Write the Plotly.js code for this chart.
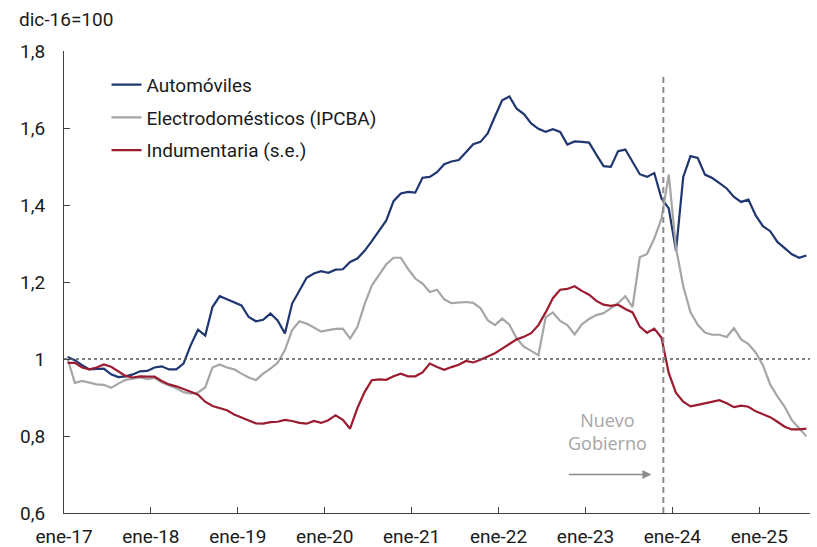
<!DOCTYPE html>
<html>
<head>
<meta charset="utf-8">
<script src="https://cdn.plot.ly/plotly-3.0.1.min.js"></script>
<style>html,body{margin:0;padding:0;background:#fff}#chart{width:817px;height:547px}</style>
</head>
<body>
<div id="chart"></div>
<script>
// Monthly series, ene-17 ... jul-25 (dic-16 = 100, shown as ratio)
const seriesNames = ["Automóviles", "Electrodomésticos (IPCBA)", "Indumentaria (s.e.)"];
const automoviles = [
  1.005,0.997,0.984,0.973,0.974,0.975,0.960,0.953,0.955,0.960,0.968,0.969,
  0.978,0.981,0.973,0.973,0.988,1.036,1.076,1.061,1.135,1.163,1.155,1.147,
  1.139,1.109,1.098,1.102,1.118,1.100,1.066,1.144,1.178,1.211,1.222,1.228,
  1.224,1.232,1.233,1.252,1.261,1.281,1.306,1.332,1.360,1.410,1.430,1.434,
  1.432,1.471,1.473,1.485,1.506,1.513,1.517,1.537,1.558,1.564,1.586,1.630,
  1.672,1.682,1.650,1.636,1.612,1.598,1.590,1.597,1.590,1.557,1.565,1.564,
  1.562,1.531,1.501,1.499,1.540,1.544,1.512,1.480,1.473,1.483,1.417,1.391,
  1.281,1.473,1.527,1.522,1.479,1.470,1.457,1.443,1.421,1.408,1.414,1.373,
  1.345,1.332,1.304,1.288,1.272,1.263,1.269
];
const electrodomesticos = [
  1.000,0.938,0.943,0.939,0.934,0.933,0.925,0.936,0.946,0.949,0.952,0.948,
  0.951,0.939,0.932,0.924,0.914,0.910,0.913,0.926,0.978,0.986,0.978,0.973,
  0.962,0.952,0.945,0.962,0.975,0.990,1.023,1.075,1.098,1.092,1.082,1.071,
  1.075,1.078,1.079,1.053,1.083,1.142,1.191,1.219,1.246,1.263,1.263,1.234,
  1.209,1.196,1.174,1.180,1.155,1.145,1.146,1.148,1.146,1.132,1.101,1.088,
  1.105,1.089,1.053,1.032,1.021,1.010,1.108,1.121,1.099,1.088,1.064,1.090,
  1.104,1.114,1.119,1.131,1.145,1.163,1.135,1.264,1.273,1.313,1.365,1.479,
  1.288,1.189,1.121,1.089,1.069,1.063,1.063,1.057,1.080,1.051,1.039,1.017,
  0.984,0.934,0.903,0.876,0.841,0.820,0.799
];
const indumentaria = [
  0.990,0.990,0.978,0.973,0.978,0.986,0.980,0.969,0.956,0.952,0.955,0.954,
  0.954,0.943,0.934,0.929,0.923,0.915,0.907,0.889,0.878,0.873,0.867,0.856,
  0.849,0.841,0.833,0.832,0.836,0.837,0.842,0.839,0.834,0.832,0.839,0.834,
  0.841,0.854,0.842,0.819,0.872,0.914,0.945,0.947,0.946,0.955,0.962,0.955,
  0.955,0.965,0.988,0.979,0.972,0.979,0.985,0.995,0.991,0.998,1.007,1.015,
  1.027,1.039,1.051,1.058,1.067,1.088,1.121,1.158,1.180,1.182,1.189,1.177,
  1.167,1.151,1.141,1.138,1.141,1.130,1.121,1.084,1.068,1.079,1.055,0.963,
  0.912,0.889,0.877,0.881,0.885,0.889,0.893,0.885,0.875,0.879,0.876,0.864,
  0.856,0.849,0.837,0.824,0.817,0.817,0.819
];
const xTickLabels = ["ene-17","ene-18","ene-19","ene-20","ene-21","ene-22","ene-23","ene-24","ene-25"];
const yTickValues = [0.6, 0.8, 1, 1.2, 1.4, 1.6, 1.8];
const yTickLabels = ["0,6","0,8","1","1,2","1,4","1,6","1,8"];
const monthNames = ["ene","feb","mar","abr","may","jun","jul","ago","sep","oct","nov","dic"];
const newGovMonth = 82.75;  // boundary into dic-23 (month index axis)

const colors = ["#1f3670", "#a6a6a6", "#9b1b30"];
const n = automoviles.length;
const xs = [], labels = [];
for (let i = 0; i < n; i++) {
  xs.push(i + 0.5);
  labels.push(monthNames[i % 12] + "-" + String(17 + Math.floor(i / 12)));
}
const FONT = "Roboto, 'Noto Sans', Arial, sans-serif";
const FS = 19;

const traces = [automoviles, electrodomesticos, indumentaria].map((ys, k) => ({
  x: xs, y: ys, text: labels, type: "scatter", mode: "lines",
  name: seriesNames[k], legendgroup: "g" + k,
  line: {color: colors[k], width: 2.2},
  hovertemplate: "%{text}: %{y:.3f}<extra>" + seriesNames[k] + "</extra>"
}));

const layout = {
  width: 817, height: 547,
  margin: {l: 64, r: 7, t: 51, b: 34},
  paper_bgcolor: "#fff", plot_bgcolor: "#fff",
  font: {family: FONT, size: FS, color: "#1a1a1a"},
  title: {text: "dic-16=100", x: 19/817, xanchor: "left", y: 1 - 19/547, yanchor: "middle",
          font: {family: FONT, size: FS, color: "#1a1a1a"}},
  showlegend: true,
  legend: {x: 0.057, xanchor: "left", y: 0.968, yanchor: "top", bgcolor: "rgba(0,0,0,0)",
           traceorder: "grouped", tracegroupgap: 5, font: {family: FONT, size: FS, color: "#1a1a1a"}},
  xaxis: {range: [0, n], tickvals: xTickLabels.map((_, i) => i * 12), ticktext: xTickLabels,
          showgrid: false, zeroline: false, showline: true, linecolor: "#404040", linewidth: 1,
          ticks: "inside", ticklen: 6, tickcolor: "#404040", ticklabelstandoff: 6,
          tickfont: {family: FONT, size: FS, color: "#1a1a1a"}, fixedrange: true},
  yaxis: {range: [0.6, 1.8], tickvals: yTickValues, ticktext: yTickLabels,
          showgrid: false, zeroline: false, showline: true, linecolor: "#404040", linewidth: 1,
          ticks: "inside", ticklen: 6, tickcolor: "#404040", ticklabelstandoff: 14,
          tickfont: {family: FONT, size: FS, color: "#1a1a1a"}, fixedrange: true},
  shapes: [
    {type: "line", xref: "x", yref: "y", x0: 0, x1: n, y0: 1, y1: 1,
     line: {color: "#595959", width: 1.3, dash: "3px,3px"}},
    {type: "line", xref: "x", yref: "y", x0: newGovMonth, x1: newGovMonth, y0: 0.6, y1: 1.74,
     line: {color: "#8c8c8c", width: 2, dash: "6px,4px"}}
  ],
  annotations: [
    {xref: "x", yref: "y", x: 75.1, y: 0.812, text: "Nuevo<br>Gobierno", showarrow: false,
     font: {family: "'Open Sans', Roboto, sans-serif", size: 18, color: "#a6a6a6"},
     align: "center", xanchor: "center", yanchor: "middle"},
    {xref: "x", yref: "y", x: 81.1, y: 0.70, axref: "x", ayref: "y", ax: 69.5, ay: 0.70, text: "",
     showarrow: true, arrowhead: 2, arrowsize: 1.2, arrowwidth: 1.5, arrowcolor: "#8c8c8c"}
  ]
};

Plotly.newPlot("chart", traces, layout, {displayModeBar: false, staticPlot: false});
</script>
</body>
</html>
